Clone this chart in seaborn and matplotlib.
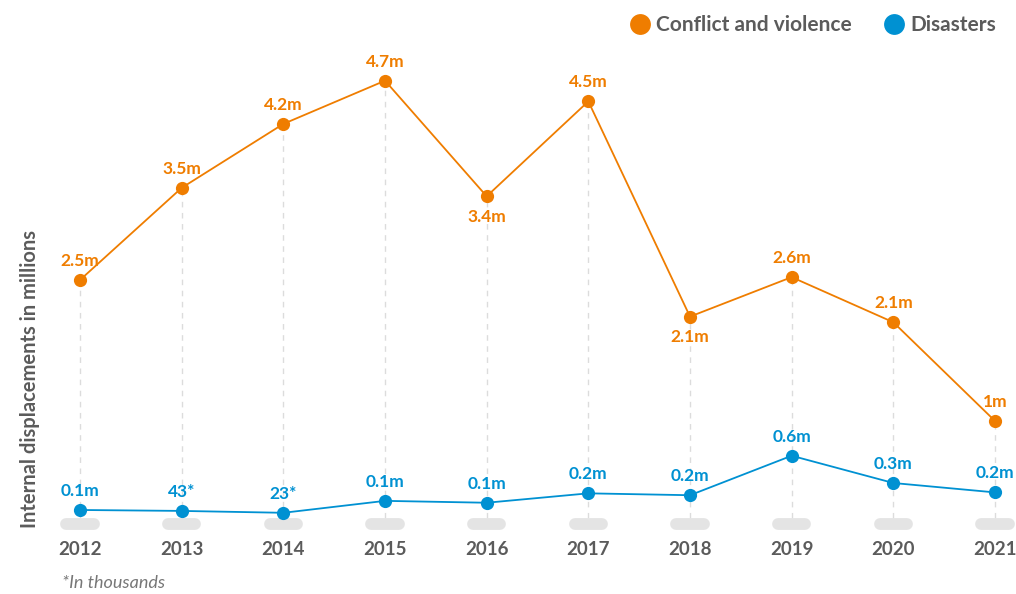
import matplotlib
matplotlib.use("Agg")
import matplotlib.pyplot as plt
from matplotlib.lines import Line2D
import seaborn as sns
import pandas as pd

# data
years = ["2012", "2013", "2014", "2015", "2016", "2017", "2018", "2019", "2020", "2021"]
conflict = [2.5, 3.48, 4.16, 4.62, 3.39, 4.40, 2.11, 2.53, 2.05, 1.0]
disasters = [0.053, 0.043, 0.023, 0.15, 0.13, 0.23, 0.21, 0.63, 0.34, 0.24]
conflict_labels = ["2.5m", "3.5m", "4.2m", "4.7m", "3.4m", "4.5m", "2.1m", "2.6m", "2.1m", "1m"]
disaster_labels = ["0.1m", "43*", "23*", "0.1m", "0.1m", "0.2m", "0.2m", "0.6m", "0.3m", "0.2m"]
conflict_below = [False, False, False, False, True, False, True, False, False, False]

ORANGE = "#EF7D00"
BLUE = "#0091D2"
GREY = "#5b5b5b"

sns.set_theme(style="white")
plt.rcParams['font.family'] = ['Lato', 'DejaVu Sans']

idx = list(range(len(years)))
df = pd.DataFrame({
    "idx": idx * 2,
    "value": conflict + disasters,
    "series": ["Conflict and violence"] * len(years) + ["Disasters"] * len(years),
})

W, H = 1016, 594
fig = plt.figure(figsize=(W / 100, H / 100), dpi=100)
# axes placed in pixel terms: left 60, right 1014, top 60, bottom 530
ax = fig.add_axes([60 / W, (H - 530) / H, (1014 - 60) / W, (530 - 60) / H])

sns.lineplot(data=df, x="idx", y="value", hue="series",
             palette={"Conflict and violence": ORANGE, "Disasters": BLUE},
             marker="o", markersize=9.5, markeredgewidth=0, linewidth=1.3,
             legend=False, ax=ax, zorder=3)

ax.set_xlim(-0.197, 9.187)
ax.set_ylim(-0.16, 4.84)

# dashed guides from the conflict point down to the pill
ax.vlines(idx, -0.03, conflict, colors="#dcdcdc", linestyles=(0, (4, 4)),
          linewidth=1, zorder=1)

# grey pills over each year
for i in idx:
    ax.plot([i - 0.135, i + 0.135], [-0.096, -0.096], color="#e4e4e4",
            lw=8.5, solid_capstyle="round", clip_on=False, zorder=2)

for i in idx:
    if conflict_below[i]:
        ax.annotate(conflict_labels[i], (i, conflict[i]), xytext=(0, -9),
                    textcoords="offset points", ha="center", va="top",
                    color=ORANGE, fontsize=12.5, fontweight="bold")
    else:
        ax.annotate(conflict_labels[i], (i, conflict[i]), xytext=(0, 8),
                    textcoords="offset points", ha="center", va="bottom",
                    color=ORANGE, fontsize=12.5, fontweight="bold")
    ax.annotate(disaster_labels[i], (i, disasters[i]), xytext=(0, 8),
                textcoords="offset points", ha="center", va="bottom",
                color=BLUE, fontsize=12.5, fontweight="bold")

ax.set_xticks(idx)
ax.set_xticklabels(years, fontsize=13.5, fontweight="bold", color=GREY)
ax.tick_params(axis="x", length=0, pad=8)
ax.set_yticks([])
ax.set_xlabel("")
ax.set_ylabel("")
for s in ax.spines.values():
    s.set_visible(False)

fig.text(30 / W, 1 - 379 / H, "Internal displacements in millions", rotation=90,
         ha="center", va="center", fontsize=14.5, fontweight="bold", color=GREY)
fig.text(62 / W, 1 - 583 / H, "*In thousands", ha="left", va="center",
         fontsize=13, fontstyle="italic", color="#777777")

handles = [
    Line2D([], [], marker="o", linestyle="", markersize=15, markeredgewidth=0,
           color=ORANGE, label="Conflict and violence"),
    Line2D([], [], marker="o", linestyle="", markersize=15, markeredgewidth=0,
           color=BLUE, label="Disasters"),
]
leg = fig.legend(handles=handles, loc="upper right", bbox_to_anchor=(0.999, 1.006),
                 ncol=2, frameon=False, handletextpad=0.1, columnspacing=1.3,
                 handlelength=1.4, prop={"size": 15, "weight": "bold"})
for t in leg.get_texts():
    t.set_color(GREY)

fig.savefig("out.png", dpi=100, facecolor="white")
